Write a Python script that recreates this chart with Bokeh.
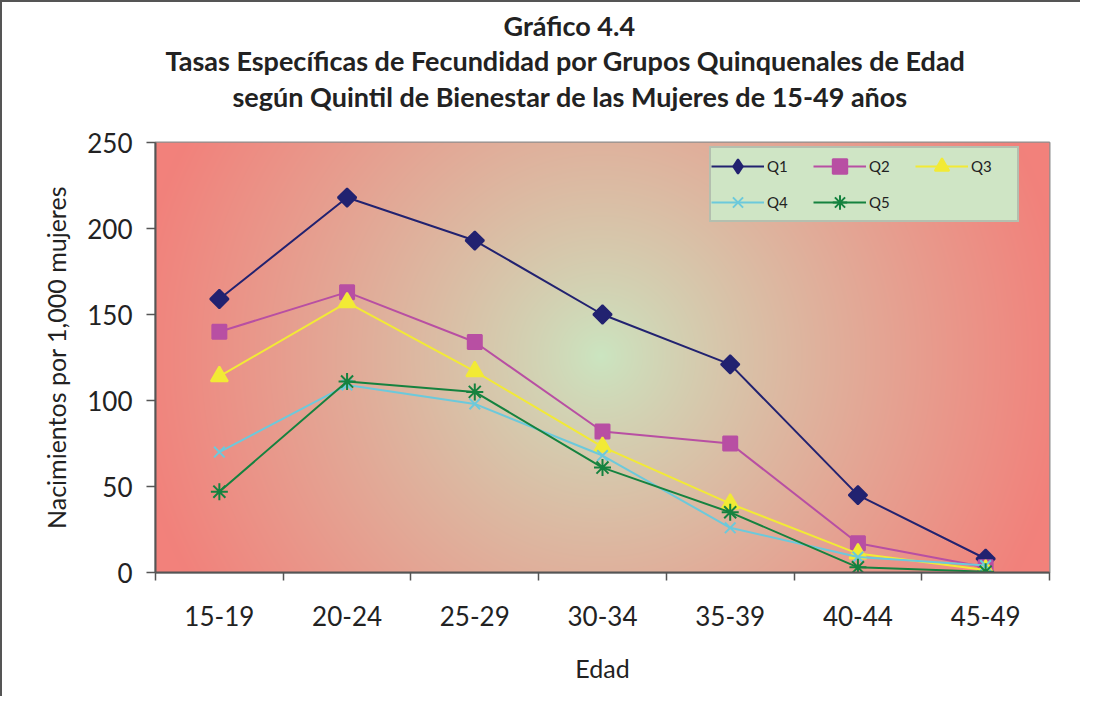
import numpy as np
from bokeh.plotting import figure
from bokeh.models import (Range1d, FixedTicker, Legend, LegendItem, Title)
from bokeh.embed import file_html
from bokeh.resources import INLINE

# ---------------- data ----------------
categories = ["15-19", "20-24", "25-29", "30-34", "35-39", "40-44", "45-49"]
q1 = [159, 218, 193, 150, 121, 45, 8]
q2 = [140, 163, 134, 82, 75, 17, 3]
q3 = [114, 157, 117, 73, 40, 11, 1.5]
q4 = [70, 109, 98, 68, 26, 9, 4]
q5 = [47, 111, 105, 61, 35, 3, 0.5]
series_names = ["Q1", "Q2", "Q3", "Q4", "Q5"]
y_ticks = [0, 50, 100, 150, 200, 250]
title_lines = ["Gráfico 4.4",
               "Tasas Específicas de Fecundidad por Grupos Quinquenales de Edad",
               "según Quintil de Bienestar de las Mujeres de 15-49 años"]
x_title = "Edad"
y_title = "Nacimientos por 1,000 mujeres"

# ---------------- styles ----------------
colors = ["#222270", "#B84FA3", "#F2EA35", "#6CC9DB", "#15823F"]
markers = ["square", "square", "triangle", "x", "asterisk"]
legend_markers = ["diamond", None, None, None, None]
angles = [np.pi / 4, 0, 0, 0, 0]
sizes = [13, 14, 17, 15, 17]
FONT = "Lato"

n = len(categories)
xs = [i + 0.5 for i in range(n)]
ymax = 250

p = figure(width=1080, height=696, output_backend="svg", toolbar_location=None,
           x_range=Range1d(0, n), y_range=Range1d(0, ymax),
           min_border_left=153, min_border_top=140, min_border_right=33,
           min_border_bottom=126)
p.styles = {"border-left": "2px solid #555555", "border-top": "2px solid #555555"}
p.background_fill_color = "#F2817B"
p.border_fill_color = "white"
p.outline_line_color = "#8E8E8E"
p.outline_line_width = 2

# background radial gradient (decoration)
W, H = 894, 430
cx, cy = 445, 213
yy, xx = np.mgrid[0:H, 0:W]
d = np.sqrt((xx - cx) ** 2 + (yy - cy) ** 2)
t = np.clip(d / 470.0, 0, 1) ** 0.85
c0 = np.array([0xCB, 0xE6, 0xC1], dtype=float)
c1 = np.array([0xF2, 0x81, 0x7B], dtype=float)
rgb = c0[None, None, :] * (1 - t[..., None]) + c1[None, None, :] * t[..., None]
rgb = rgb[::-1]  # row 0 at bottom
img = np.empty((H, W), dtype=np.uint32)
view = img.view(dtype=np.uint8).reshape((H, W, 4))
view[..., 0] = rgb[..., 0].astype(np.uint8)
view[..., 1] = rgb[..., 1].astype(np.uint8)
view[..., 2] = rgb[..., 2].astype(np.uint8)
view[..., 3] = 255
p.image_rgba(image=[img], x=0, y=0, dw=n, dh=ymax)

# grid
p.xgrid.visible = False
p.ygrid.ticker = FixedTicker(ticks=y_ticks)
p.ygrid.grid_line_color = "#3F3F3F"
p.ygrid.grid_line_width = 2.5
p.ygrid.grid_line_dash = "4 8"

# axes
p.xaxis.ticker = FixedTicker(ticks=xs, minor_ticks=list(range(n + 1)))
p.xaxis.major_label_overrides = {x: c for x, c in zip(xs, categories)}
p.xaxis.major_tick_line_color = None
p.xaxis.major_tick_out = 0
p.xaxis.major_tick_in = 0
p.xaxis.minor_tick_out = 8
p.xaxis.minor_tick_in = 0
p.xaxis.minor_tick_line_color = "#555555"
p.xaxis.minor_tick_line_width = 1.5
p.xaxis.major_label_standoff = 25
p.xaxis.axis_label = x_title
p.xaxis.axis_label_standoff = 24

p.yaxis.ticker = FixedTicker(ticks=y_ticks, minor_ticks=[])
p.yaxis.major_tick_out = 9
p.yaxis.major_tick_in = 0
p.yaxis.major_tick_line_color = "#555555"
p.yaxis.major_tick_line_width = 1.5
p.yaxis.major_label_standoff = 14
p.yaxis.axis_label = y_title
p.yaxis.axis_label_standoff = 13

for ax in (p.xaxis, p.yaxis):
    ax.axis_line_color = "#555555"
    ax.axis_line_width = 2
    ax.major_label_text_font = FONT
    ax.major_label_text_font_size = "26px"
    ax.major_label_text_color = "#222222"
    ax.axis_label_text_font = FONT
    ax.axis_label_text_font_size = "25px"
    ax.axis_label_text_font_style = "normal"
    ax.axis_label_text_color = "#222222"

# series
items = []
for name, vals, col, mk, lmk, ang, sz in zip(series_names, [q1, q2, q3, q4, q5],
                                              colors, markers, legend_markers,
                                              angles, sizes):
    l = p.line(xs, vals, line_color=col, line_width=2)
    s = p.scatter(xs, vals, marker=mk, size=sz, angle=ang,
                  fill_color=col, line_color=col, line_width=2)
    if lmk is not None:
        # legend-only marker (a rotated square is shown as a diamond)
        s_leg = p.scatter(xs, vals, marker=lmk, size=sz, fill_color=col,
                          line_color=col, line_width=2, visible=False)
        items.append(LegendItem(label=name, renderers=[l, s_leg]))
    else:
        items.append(LegendItem(label=name, renderers=[l, s]))

legend = Legend(items=items, orientation="horizontal", ncols=3,
                location=(554, 350))
legend.background_fill_color = "#CFE5C5"
legend.background_fill_alpha = 1
legend.border_line_color = "#999999"
legend.border_line_width = 2
legend.label_text_font = FONT
legend.label_text_font_size = "15px"
legend.label_text_color = "#222222"
legend.glyph_width = 53
legend.glyph_height = 36
legend.label_width = 46
legend.label_standoff = 3
legend.spacing = -2
legend.padding = 0
legend.margin = 0
p.add_layout(legend, "center")

# title block: panels are stacked outward from the frame
def spacer(standoff):
    return Title(text=" ", standoff=standoff, text_font_size="1px")

p.add_layout(spacer(26), "above")
offsets = [77, 10, 348]
standoffs = [2, 0, 0]
for line, off, so in zip(title_lines[::-1], offsets, standoffs):
    p.add_layout(Title(text=line, align="left", offset=off, standoff=so,
                       text_font=FONT, text_font_style="bold",
                       text_font_size="27px", text_color="#222222"), "above")
p.add_layout(spacer(0), "above")

open("out.html", "w").write(file_html(p, INLINE))
